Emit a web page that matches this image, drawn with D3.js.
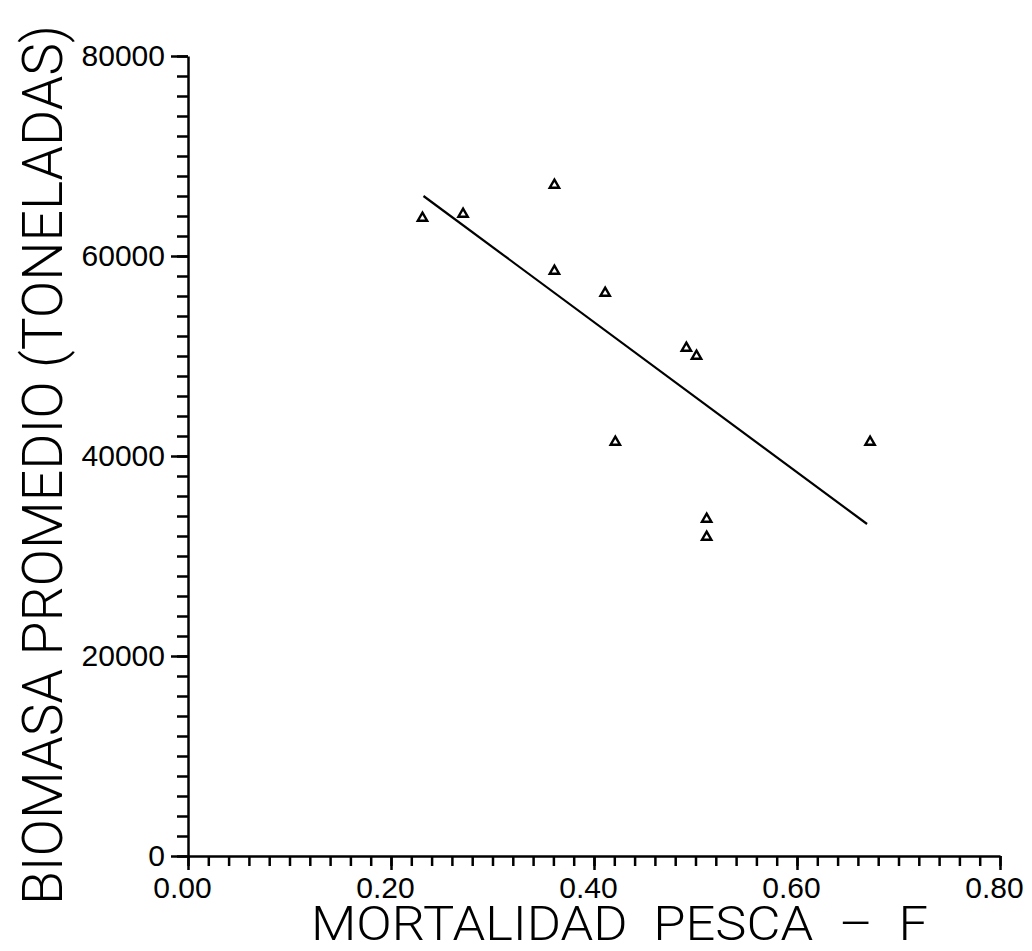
<!DOCTYPE html>
<html>
<head>
<meta charset="utf-8">
<script src="https://cdn.jsdelivr.net/npm/d3@7"></script>
<style>
  body { margin: 0; background: #fff; }
  text { font-family: "Liberation Sans", "DejaVu Sans", sans-serif; fill: #000; }
</style>
</head>
<body>
<svg id="chart"></svg>
<script>
// Data
const mortalidad = [0.231, 0.271, 0.361, 0.361, 0.411, 0.421, 0.491, 0.501, 0.511, 0.511, 0.672];
const biomasa = [63800, 64200, 67100, 58500, 56300, 41400, 50800, 50000, 33700, 31900, 41400];
// fitted line, two end points
const lineaF = [0.232, 0.669];
const lineaB = [66000, 33200];
const xTicks = [0, 0.2, 0.4, 0.6, 0.8];
const yTicks = [0, 20000, 40000, 60000, 80000];

const W = 1032, H = 951;
const svg = d3.select('#chart').attr('width', W).attr('height', H);

const x = d3.scaleLinear().domain([0, 0.8]).range([188, 1000]);
const y = d3.scaleLinear().domain([0, 80000]).range([856, 56]);

// minor ticks
const xMinor = d3.range(0, 0.8001, 0.02);
const yMinor = d3.range(0, 80001, 2000);

const gx = svg.append('g').attr('transform', `translate(0,${y(0)})`);
gx.call(d3.axisBottom(x).tickValues(xMinor).tickSize(10).tickSizeOuter(0));
gx.selectAll('text').remove();
gx.append('g').call(d3.axisBottom(x).tickValues(xTicks).tickSize(14).tickSizeOuter(0)
    .tickFormat(d3.format('.2f')))
  .call(g => g.select('.domain').remove())
  .selectAll('text')
  .attr('y', 42).attr('dy', 0).attr('dx', -6)
  .style('font-family', '"Liberation Sans Narrow", "Liberation Sans", sans-serif')
  .style('font-size', '30px');

const gy = svg.append('g').attr('transform', `translate(${x(0)},0)`);
gy.call(d3.axisLeft(y).tickValues(yMinor).tickSize(11).tickSizeOuter(0));
gy.selectAll('text').remove();
gy.append('g').call(d3.axisLeft(y).tickValues(yTicks).tickSize(17).tickSizeOuter(0)
    .tickFormat(d3.format('d')))
  .call(g => g.select('.domain').remove())
  .selectAll('text')
  .attr('x', -23)
  .style('font-family', '"Liberation Sans Narrow", "Liberation Sans", sans-serif')
  .style('font-size', '30px');

svg.selectAll('.domain, .tick line').attr('stroke', '#000').attr('stroke-width', 2.5);

// regression line
svg.append('line')
  .attr('x1', x(lineaF[0])).attr('y1', y(lineaB[0]))
  .attr('x2', x(lineaF[1])).attr('y2', y(lineaB[1]))
  .attr('stroke', '#000').attr('stroke-width', 2.2);

// points
const tri = d3.symbol().type(d3.symbolTriangle).size(38);
svg.selectAll('.pt')
  .data(mortalidad)
  .enter()
  .append('path')
  .attr('class', 'pt')
  .attr('transform', (d, i) => `translate(${x(d)},${y(biomasa[i])})`)
  .attr('d', tri)
  .attr('fill', '#fff')
  .attr('stroke', '#000')
  .attr('stroke-width', 2.4);

// axis titles
svg.append('text')
  .attr('x', 311).attr('y', 940)
  .attr('xml:space', 'preserve')
  .style('white-space', 'pre')
  .style('font-family', 'Roboto, "Liberation Sans", sans-serif')
  .style('font-weight', 300)
  .style('font-size', '48px')
  .attr('textLength', 617)
  .attr('lengthAdjust', 'spacingAndGlyphs')
  .text('MORTALIDAD  PESCA  \u2013  F');

svg.append('text')
  .attr('transform', 'translate(62,905) rotate(-90)')
  .style('font-family', 'Roboto, "Liberation Sans", sans-serif')
  .style('font-weight', 300)
  .style('font-size', '56px')
  .attr('textLength', 880)
  .attr('lengthAdjust', 'spacingAndGlyphs')
  .text('BIOMASA  PROMEDIO  (TONELADAS)');
</script>
</body>
</html>
